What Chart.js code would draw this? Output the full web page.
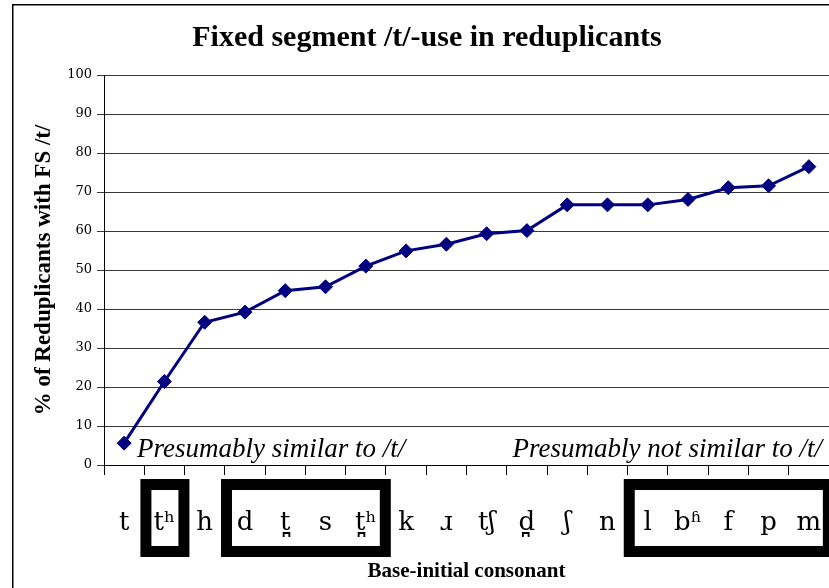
<!DOCTYPE html>
<html>
<head>
<meta charset="utf-8">
<script src="https://cdn.jsdelivr.net/npm/chart.js@4.4.0/dist/chart.umd.min.js"></script>
<style>
  html, body { margin: 0; padding: 0; background: #fff; }
  canvas { display: block; }
</style>
</head>
<body>
<canvas id="chart" width="829" height="588"></canvas>
<script>
// base-initial consonants, ordered by FS /t/ rate
const consonants = ['t', 'tʰ', 'h', 'd', 't̪', 's', 't̪ʰ', 'k', 'ɹ', 'tʃ', 'd̪', 'ʃ', 'n', 'l', 'bʱ', 'f', 'p', 'm'];
const fsPercent = [5.6, 21.4, 36.6, 39.2, 44.7, 45.7, 51.0, 54.9, 56.6, 59.3, 60.1, 66.7, 66.7, 66.7, 68.1, 71.1, 71.6, 76.5];
const yMin = 0, yMax = 100, yStep = 10;
// consonant groups that get a thick box (first, last index)
const groupBoxes = [[1, 1], [3, 6], [13, 17]];
const noteLeft = 'Presumably similar to /t/';
const noteRight = 'Presumably not similar to /t/';

const decorations = {
  id: 'decorations',
  beforeDraw(chart) {
    const ctx = chart.ctx;
    ctx.save();
    ctx.fillStyle = '#fff';
    ctx.fillRect(0, 0, chart.width, chart.height);
    // outer frame, runs off the right and bottom edges
    ctx.strokeStyle = '#000';
    ctx.lineWidth = 1.5;
    ctx.strokeRect(12.75, 4.75, chart.width + 20, chart.height + 20);
    ctx.restore();
  },
  afterDraw(chart) {
    const { ctx, chartArea } = chart;
    const xs = chart.scales.x;
    ctx.save();

    // boxes around consonant groups
    ctx.strokeStyle = '#000';
    ctx.lineWidth = 11;
    const top = chartArea.bottom + 14, bottom = chartArea.bottom + 92;
    groupBoxes.forEach(([from, to]) => {
      const l = xs.getPixelForValue(from) - 24;
      const r = xs.getPixelForValue(to) + 25;
      ctx.strokeRect(l + 5.5, top + 5.5, r - l - 11, bottom - top - 11);
    });

    // group notes just above the x axis
    ctx.fillStyle = '#000';
    ctx.font = 'italic 27px "Liberation Serif"';
    ctx.textBaseline = 'alphabetic';
    ctx.textAlign = 'left';
    ctx.fillText(noteLeft, chartArea.left + 33, chartArea.bottom - 8);
    ctx.textAlign = 'right';
    ctx.fillText(noteRight, chartArea.right - 7, chartArea.bottom - 8);
    ctx.restore();
  }
};

new Chart(document.getElementById('chart'), {
  type: 'line',
  data: {
    labels: consonants,
    datasets: [{
      data: fsPercent,
      borderColor: '#000080',
      backgroundColor: '#000080',
      borderWidth: 3,
      pointStyle: 'rectRot',
      pointRadius: 7,
      pointHoverRadius: 7,
      pointBorderWidth: 1,
      tension: 0,
      fill: false
    }]
  },
  options: {
    responsive: false,
    devicePixelRatio: 1,
    animation: false,
    events: [],
    layout: { autoPadding: false, padding: { left: 25, right: 0, top: 0, bottom: 0 } },
    plugins: {
      legend: { display: false },
      tooltip: { enabled: false },
      title: {
        display: true,
        text: 'Fixed segment /t/-use in reduplicants',
        color: '#000',
        font: { family: 'Liberation Serif', size: 30, weight: 'bold' },
        padding: { top: 20, bottom: 19 }
      }
    },
    scales: {
      x: {
        type: 'category',
        offset: true,
        grid: { offset: true, drawOnChartArea: false, tickLength: 10, color: '#000' },
        border: { color: '#000', width: 1 },
        ticks: {
          color: '#000',
          font: { family: 'DejaVu Serif', size: 26 },
          autoSkip: false,
          maxRotation: 0,
          padding: 33
        },
        title: {
          display: true,
          text: 'Base-initial consonant',
          color: '#000',
          font: { family: 'Liberation Serif', size: 21, weight: 'bold' },
          padding: { top: 0, bottom: 4 }
        },
        afterFit(scale) {
          scale.height = 123;
          // plot runs right up to the canvas edge
          scale.paddingLeft = 0;
          scale.paddingRight = 0;
        }
      },
      y: {
        min: yMin,
        max: yMax,
        grid: { color: '#3a3a3a', tickLength: 7 },
        border: { color: '#000', width: 1 },
        ticks: {
          stepSize: yStep,
          color: '#000',
          font: { family: 'DejaVu Serif', size: 13 },
          padding: 5
        },
        title: {
          display: true,
          text: '% of Reduplicants with FS /t/',
          color: '#000',
          font: { family: 'Liberation Serif', size: 23, weight: 'bold' },
          padding: { top: 5 }
        },
        afterFit(scale) { scale.width = 79; }
      }
    }
  },
  plugins: [decorations]
});
</script>
</body>
</html>
